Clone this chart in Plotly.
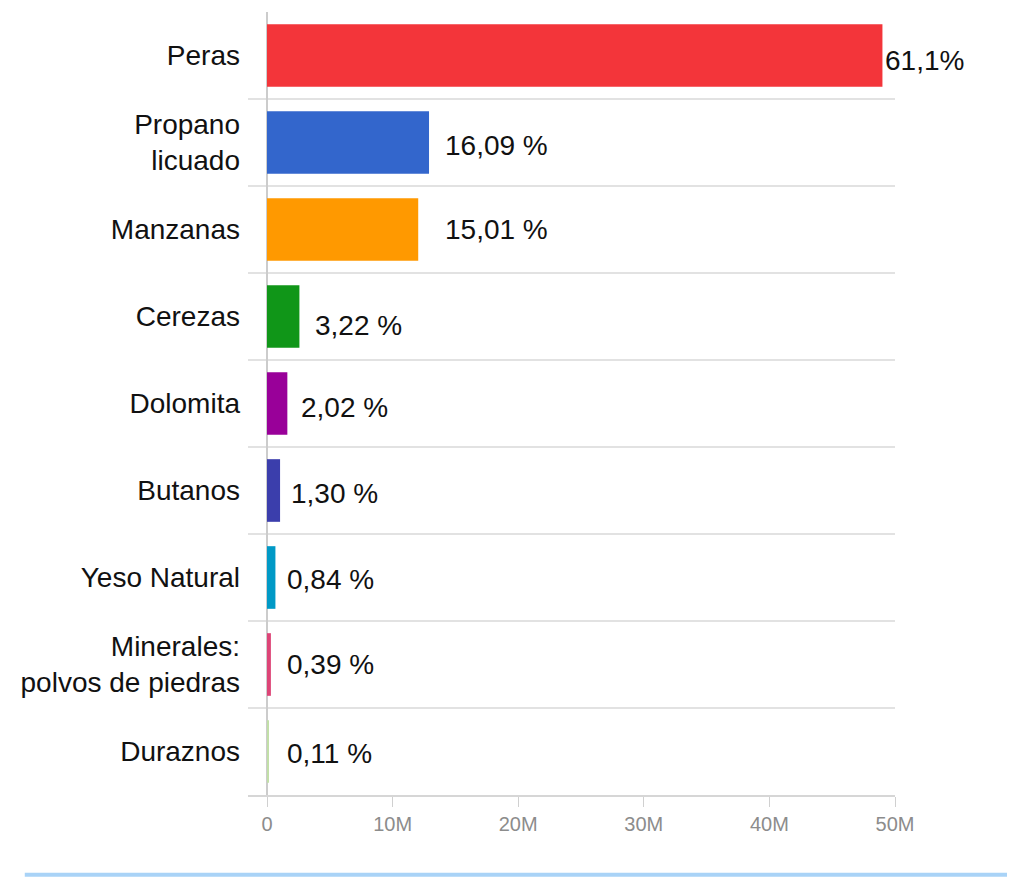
import plotly.graph_objects as go

categories = ["Peras", "Propano<br>licuado", "Manzanas", "Cerezas", "Dolomita",
              "Butanos", "Yeso Natural", "Minerales:<br>polvos de piedras", "Duraznos"]
values = [49.0e6, 12.9e6, 12.04e6, 2.58e6, 1.62e6, 1.04e6, 0.67e6, 0.31e6, 0.088e6]
labels = ["61,1%", "16,09 %", "15,01 %", "3,22 %", "2,02 %", "1,30 %", "0,84 %", "0,39 %", "0,11 %"]
tick_vals = [0, 10e6, 20e6, 30e6, 40e6, 50e6]
tick_text = ["0", "10M", "20M", "30M", "40M", "50M"]

colors = ["#f3353a", "#3366cc", "#ff9900", "#109618", "#990099",
          "#3b3eac", "#0099c6", "#dd4477", "#c2dfa8"]
label_shift_px = [1, 14, 25, 14, 12, 9, 10, 14, 17]
label_yshift_px = [-5, -3, 0, -9, -4, -3, -2, 0, -2]

FONT = "Liberation Sans, Arial, sans-serif"

fig = go.Figure()
fig.add_trace(go.Bar(
    x=values, y=categories, orientation="h",
    marker=dict(color=colors, line=dict(width=0)),
    hoverinfo="skip",
))

for c, v, t, dx, dy in zip(categories, values, labels, label_shift_px, label_yshift_px):
    fig.add_annotation(x=v, y=c, text=t, showarrow=False, xanchor="left",
                       xshift=dx, yshift=dy,
                       font=dict(family=FONT, size=28, color="#111111"))

# page body has an 8px margin, so the figure is sized to fit the window
fig.update_layout(
    width=1007, height=869,
    margin=dict(l=240, r=120, t=4, b=82),
    paper_bgcolor="white", plot_bgcolor="white",
    bargap=0.28,
    showlegend=False,
    font=dict(family=FONT),
)

fig.update_xaxes(
    range=[-1.513e6, 50e6],
    tickvals=tick_vals, ticktext=tick_text,
    showgrid=False,
    zeroline=True, zerolinecolor="#cccccc", zerolinewidth=2,
    showline=True, linecolor="#d6d6d6", linewidth=2,
    ticks="outside", ticklen=10, tickcolor="#d0d0d0", tickwidth=1,
    tickfont=dict(family=FONT, size=20, color="#8c8c8c"),
    fixedrange=True,
)
fig.update_yaxes(
    type="category", autorange="reversed",
    tickson="boundaries", showgrid=True, gridcolor="#e2e2e2", gridwidth=2,
    ticks="", showline=False, zeroline=False,
    ticklabelstandoff=7,
    tickfont=dict(family=FONT, size=28, color="#111111"),
    fixedrange=True,
)

fig.add_shape(type="line", xref="paper", yref="paper",
              x0=-0.345, x1=1.185, y0=-0.102, y1=-0.102,
              line=dict(color="#a9d3f7", width=4))

fig.write_html("out.html")
